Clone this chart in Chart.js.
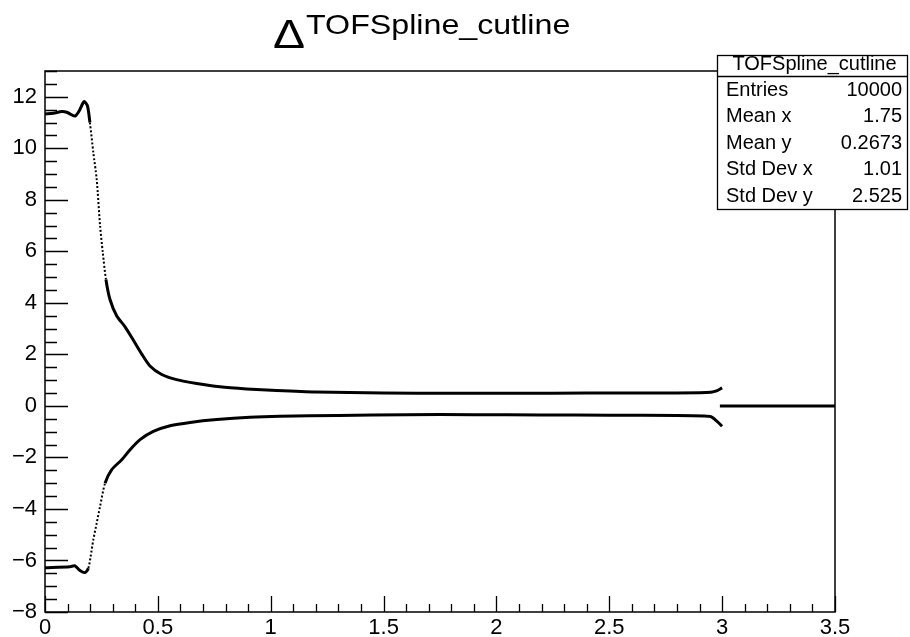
<!DOCTYPE html>
<html>
<head>
<meta charset="utf-8">
<title>TOFSpline_cutline</title>
<script src="https://cdn.jsdelivr.net/npm/chart.js@4/dist/chart.umd.min.js"></script>
<style>
  html, body { margin: 0; padding: 0; background: #fff; }
  #c { display: block; }
</style>
</head>
<body>
<canvas id="c" width="910" height="637"></canvas>
<script>
// Upper band of the cut line
const upperX = [0, 0.037, 0.074, 0.096, 0.133, 0.152, 0.173, 0.188, 0.199, 0.214, 0.229, 0.244, 0.256, 0.270,
                0.288, 0.318, 0.354, 0.391, 0.428, 0.465, 0.517, 0.583, 0.672, 0.775, 0.893, 1.026, 1.2, 1.5,
                1.8, 2.1, 2.4, 2.7, 2.9, 2.95, 2.975, 3.0];
const upperY = [11.33, 11.36, 11.43, 11.40, 11.25, 11.46, 11.81, 11.65, 11.0, 9.84, 8.80, 6.99, 5.95, 4.91,
                4.13, 3.49, 3.08, 2.56, 2.02, 1.55, 1.22, 1.02, 0.87, 0.74, 0.66, 0.60, 0.54, 0.50,
                0.49, 0.49, 0.50, 0.50, 0.51, 0.53, 0.58, 0.70];

// Lower band of the cut line
const lowerX = [0, 0.111, 0.133, 0.155, 0.177, 0.192, 0.202, 0.214, 0.229, 0.244, 0.266, 0.295, 0.340, 0.377,
                0.421, 0.480, 0.554, 0.643, 0.761, 0.908, 1.041, 1.3, 1.6, 1.9, 2.2, 2.5, 2.8, 2.92, 2.95,
                2.975, 3.0];
const lowerY = [-6.28, -6.24, -6.21, -6.39, -6.47, -6.30, -5.85, -5.20, -4.55, -3.90, -3.0, -2.48, -2.09, -1.70,
                -1.31, -0.99, -0.77, -0.64, -0.53, -0.44, -0.40, -0.37, -0.34, -0.34, -0.35, -0.36, -0.37, -0.39, -0.42,
                -0.58, -0.79];

// Flat part beyond the spline range
const tailX = [2.99, 3.5];
const tailY = [0, 0];

// Axis tick labels
const xTickValues = [0, 0.5, 1, 1.5, 2, 2.5, 3, 3.5];
const yTickValues = [-8, -6, -4, -2, 0, 2, 4, 6, 8, 10, 12];

// Statistics box contents
const statsTitle = 'TOFSpline_cutline';
const statsNames = ['Entries', 'Mean x', 'Mean y', 'Std Dev x', 'Std Dev y'];
const statsValues = ['10000', '1.75', '0.2673', '1.01', '2.525'];

const FONT = '"Liberation Sans", Arial, Helvetica, sans-serif';

function toPoints(xs, ys) { return xs.map((x, i) => ({ x: x, y: ys[i] })); }

// Sparse (dotted) stretch where the curve drops steeply
function steepSegment(ctx, thin, thick) {
  const a = ctx.p0.parsed.x, b = ctx.p1.parsed.x;
  return (a >= 0.19 && b <= 0.275) ? thin : thick;
}

const lineStyle = {
  showLine: true,
  pointRadius: 0,
  borderColor: '#000',
  backgroundColor: '#000',
  borderWidth: 3,
  tension: 0.25,
  segment: {
    borderWidth: c => steepSegment(c, 2, 3),
    borderDash: c => steepSegment(c, [2, 2], undefined)
  }
};

// Inner tick marks, frame, title and stats box
const rootStyle = {
  id: 'rootStyle',
  afterDatasetsDraw(chart) {
    const ctx = chart.ctx;
    const a = chart.chartArea;
    const xs = chart.scales.x, ys = chart.scales.y;
    ctx.save();
    ctx.strokeStyle = '#000';
    ctx.lineWidth = 1.3;
    ctx.beginPath();
    // y ticks: major every 2, minor every 0.5
    for (let k = 0; k <= 42; k++) {
      const v = -8 + k * 0.5;
      const py = Math.round(ys.getPixelForValue(v)) + 0.5;
      const len = (k % 4 === 0) ? 23 : 12;
      ctx.moveTo(a.left, py);
      ctx.lineTo(a.left + len, py);
    }
    // x ticks: major every 0.5, minor every 0.1
    for (let k = 0; k <= 35; k++) {
      const v = k * 0.1;
      const px = Math.round(xs.getPixelForValue(v)) + 0.5;
      const len = (k % 5 === 0) ? 16 : 8;
      ctx.moveTo(px, a.bottom);
      ctx.lineTo(px, a.bottom - len);
    }
    ctx.stroke();

    // frame
    ctx.lineWidth = 1.5;
    ctx.strokeRect(a.left, a.top, a.right - a.left, a.bottom - a.top);

    // title: large delta followed by a raised name
    ctx.fillStyle = '#000';
    ctx.textBaseline = 'alphabetic';
    ctx.textAlign = 'left';
    ctx.save();
    ctx.translate(273, 48);
    ctx.scale(1.2, 1);
    ctx.font = '40px ' + FONT;
    ctx.fillText('\u0394', 0, 0);
    ctx.restore();
    ctx.save();
    ctx.translate(306, 34);
    ctx.scale(1.15, 1);
    ctx.font = '28px ' + FONT;
    ctx.fillText('TOFSpline_cutline', 0, 0);
    ctx.restore();

    // stats box
    const bx = 717, by = 55, bw = 191, bh = 155;
    ctx.fillStyle = '#fff';
    ctx.fillRect(bx, by, bw, bh);
    ctx.lineWidth = 1.3;
    ctx.strokeRect(bx + 0.5, by + 0.5, bw - 1, bh - 1);
    ctx.beginPath();
    ctx.moveTo(bx, 76.5);
    ctx.lineTo(bx + bw, 76.5);
    ctx.stroke();
    ctx.fillStyle = '#000';
    ctx.font = '20px ' + FONT;
    ctx.textBaseline = 'middle';
    ctx.textAlign = 'center';
    ctx.fillText(statsTitle, bx + bw / 2 + 2, 64);
    for (let i = 0; i < statsNames.length; i++) {
      const ty = 90 + i * 26.6;
      ctx.textAlign = 'left';
      ctx.fillText(statsNames[i], 726, ty);
      ctx.textAlign = 'right';
      ctx.fillText(statsValues[i], 902, ty);
    }
    ctx.restore();
  }
};

new Chart(document.getElementById('c'), {
  type: 'scatter',
  data: {
    datasets: [
      Object.assign({ label: 'upper', data: toPoints(upperX, upperY) }, lineStyle),
      Object.assign({ label: 'lower', data: toPoints(lowerX, lowerY) }, lineStyle),
      Object.assign({ label: 'tail', data: toPoints(tailX, tailY) }, lineStyle)
    ]
  },
  options: {
    responsive: false,
    animation: false,
    events: [],
    layout: { padding: { left: 0, top: 71, right: 75, bottom: 0 } },
    plugins: {
      legend: { display: false },
      title: { display: false },
      tooltip: { enabled: false }
    },
    scales: {
      x: {
        type: 'linear',
        min: 0,
        max: 3.5,
        afterFit(s) { s.height = 25; },
        afterBuildTicks(s) { s.ticks = xTickValues.map(v => ({ value: v })); },
        grid: { display: false, drawTicks: false },
        border: { display: false },
        ticks: {
          padding: 3,
          color: '#000',
          font: { family: FONT, size: 22 },
          maxRotation: 0,
          autoSkip: false,
          callback: v => String(v)
        }
      },
      y: {
        type: 'linear',
        min: -8,
        max: 13,
        afterFit(s) { s.width = 45; },
        afterBuildTicks(s) { s.ticks = yTickValues.map(v => ({ value: v })); },
        grid: { display: false, drawTicks: false },
        border: { display: false },
        ticks: {
          padding: 8,
          color: '#000',
          font: { family: FONT, size: 22 },
          autoSkip: false,
          callback: v => (v < 0 ? '\u2212' + Math.abs(v) : String(v))
        }
      }
    }
  },
  plugins: [rootStyle]
});
</script>
</body>
</html>
